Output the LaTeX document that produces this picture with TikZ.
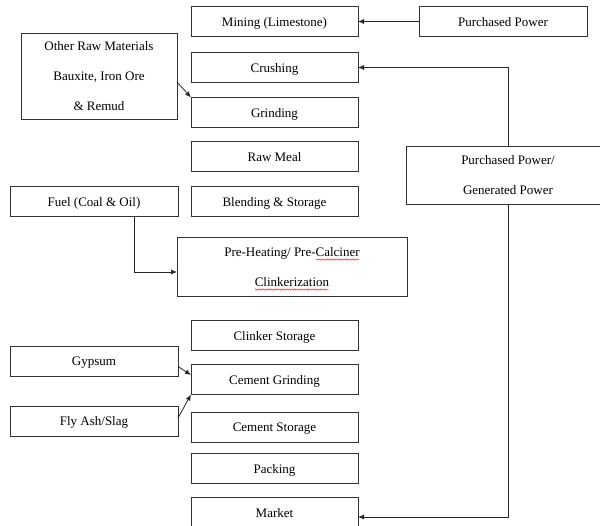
\documentclass[tikz,border=0pt]{standalone}
\usepackage{fontspec}
\setmainfont{Liberation Serif}
\usepackage{xcolor}
\usetikzlibrary{arrows.meta, positioning, decorations.pathmorphing}

% red wavy mark under a word
\newcommand\redwave[1]{\setbox0\hbox{#1}\rlap{\tikz[overlay, baseline=0pt]\draw[red, line width=0.4pt, decorate, decoration={snake, amplitude=0.7pt, segment length=2.6pt}] (0pt,-3pt) -- (\wd0,-3pt);}\box0}

\begin{document}
\begin{tikzpicture}[x=1pt,y=-1pt]
		\tikzset{
			node distance=15pt and 15pt,
			box/.style={rectangle, draw=black!80, line width=0.9pt, outer sep=0pt, align=center,
			font=\fontsize{13pt}{30pt}\selectfont, text depth=0pt, minimum width=167pt, minimum height=30pt, inner sep=2pt},
			side/.style={box, minimum width=168pt},
			line/.style={-{Latex[length=6pt, width=5pt]}, line width=0.8pt, black!85}
		}
		\useasboundingbox (0,0) rectangle (600,526);

		% process column
		\node[box](mining) at (274.5,21.5){Mining (Limestone)};
		\node[box, below=16pt of mining](crushing){Crushing};
		\node[box, below=of crushing](grinding){Grinding};
		\node[box, below=14pt of grinding](rawmeal){Raw Meal};
		\node[box, below=of rawmeal](blending){Blending \& Storage};
		\node[box, minimum width=230pt, minimum height=59pt, below=21pt of blending, xshift=17.5pt](preheat){Pre-Heating/ Pre-\redwave{Calciner}\\\redwave{Clinkerization}};
		\node[box, below=24pt of preheat, xshift=-17.5pt](clinker){Clinker Storage};
		\node[box, below=14pt of clinker](cemgrind){Cement Grinding};
		\node[box, below=18pt of cemgrind](cemstore){Cement Storage};
		\node[box, below=11pt of cemstore](packing){Packing};
		\node[box, below=14pt of packing](market){Market};

		% inputs
		\node[side, right=61pt of mining](purchased){Purchased Power};
		\node[box, minimum width=156pt, minimum height=86pt](rawmat) at (99,76){Other Raw Materials\\Bauxite, Iron Ore\\\& Remud};
		\node[side, left=13pt of blending](fuel){Fuel (Coal \& Oil)};
		\node[box, minimum width=204pt, minimum height=58pt](genpower) at (508,175){Purchased Power/\\Generated Power};
		\node[side](gypsum) at (94,361){Gypsum};
		\node[side](flyash) at (94,421){Fly Ash/Slag};

		\draw[line](purchased) -- (mining);
		\draw[line](genpower) |- (crushing);
		\draw[line](genpower) |- ([yshift=-4.5pt]market.east);
		\draw[line]([yshift=-6pt]rawmat.east) -- (grinding.north west);
		\draw[line]([xshift=40pt]fuel.south) |- ([yshift=-5pt]preheat.west);
		\draw[line]([yshift=-5.5pt]gypsum.east) -- ([yshift=4.5pt]cemgrind.west);
		\draw[line]([yshift=3pt]flyash.east) -- (cemgrind.south west);

	\end{tikzpicture}
\end{document}
